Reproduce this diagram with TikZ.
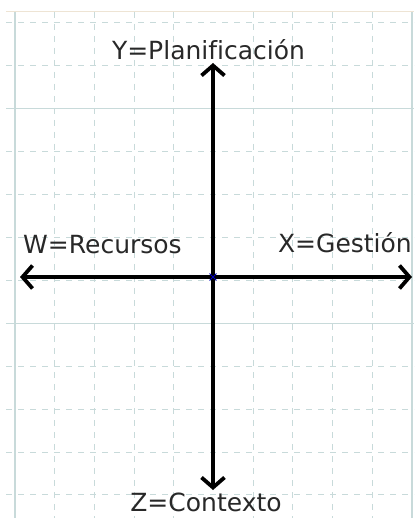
\documentclass[tikz,border=0pt]{standalone}
\usepackage{fontspec}
\setmainfont{DejaVu Sans}[Ligatures=NoCommon]
\usepackage{xcolor}
\usetikzlibrary{arrows.meta,positioning,shapes.misc}
\definecolor{gridcol}{RGB}{200,218,218}
\definecolor{framecol}{RGB}{238,228,212}
\definecolor{txtcol}{RGB}{40,40,40}

\begin{document}
\begin{tikzpicture}[
    x=1pt, y=-1pt,
    minor/.style={draw=gridcol, line width=1pt, dash pattern=on 6pt off 6pt},
    major/.style={draw=gridcol, line width=1.2pt},
    vec/.style={
        draw=black,
        line width=3.2pt,
        -{Straight Barb[length=10pt,width=23pt,line width=3.8pt]}
    },
    lbl/.style={
        text=txtcol,
        font=\fontsize{25}{28}\selectfont,
        inner sep=0pt
    },
    pt/.style={
        cross out,
        draw=blue!75!black,
        line width=0.9pt,
        minimum size=6pt,
        inner sep=0pt
    }
]
\useasboundingbox (0,0) rectangle (414,518);

% grid
\draw[framecol, line width=1pt] (6,12) -- (414,12);
\foreach \k in {1,2,3,4,6,7,8,9}
    \draw[minor] (15+39.7*\k,12) -- (15+39.7*\k,518);
\foreach \k in {0,1,3,4,5,6,8,9,10,11}
    \draw[minor] (6,23+42.9*\k) -- (414,23+42.9*\k);
\draw[major] (15,12) -- (15,518);
\draw[major] (412,12) -- (412,518);
\draw[major] (6,108.8) -- (414,108.8);
\draw[major] (6,323.5) -- (414,323.5);

% axes
\coordinate (top) at (213,63);
\coordinate (bottom) at (213,490);
\coordinate (left) at (20,277);
\coordinate (right) at (412,277);

\draw[vec] (213,277) -- (top);
\draw[vec] (213,277) -- (bottom);
\draw[vec] (213,277) -- (left);
\draw[vec] (213,277) -- (right);

\node[pt] (origin) at (213,277) {};

% labels
\node[lbl, anchor=base] (planif) at (208.5,60) {Y=Planificación};
\node[lbl, anchor=base west] (recursos) at (23,253) {W=Recursos};
\node[lbl, anchor=base east] (gestion) at (412,252) {X=Gestión};
\node[lbl, anchor=base] (contexto) at (206,511) {Z=Contexto};

\end{tikzpicture}
\end{document}
